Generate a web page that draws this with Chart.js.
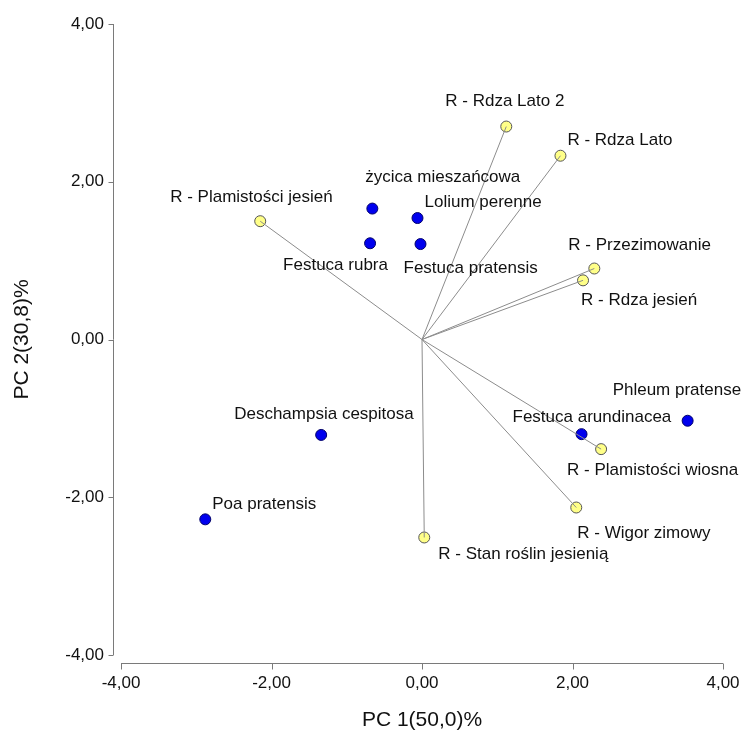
<!DOCTYPE html>
<html>
<head>
<meta charset="utf-8">
<script src="https://cdn.jsdelivr.net/npm/chart.js@4.4.1/dist/chart.umd.min.js"></script>
<style>
  html, body { margin: 0; padding: 0; background: #fff; }
  #wrap { width: 745px; height: 731px; }
</style>
</head>
<body>
<div id="wrap"><canvas id="pcaChart"></canvas></div>
<script>
// Gatunki (niebieskie punkty)
var speciesNames = ["życica mieszańcowa", "Lolium perenne", "Festuca rubra", "Festuca pratensis",
  "Deschampsia cespitosa", "Poa pratensis", "Festuca arundinacea", "Phleum pratense"];
var speciesPC1 = [-0.66, -0.06, -0.69, -0.02, -1.34, -2.88, 2.12, 3.53];
var speciesPC2 = [1.66, 1.54, 1.22, 1.21, -1.21, -2.28, -1.20, -1.03];

// Zmienne (żółte punkty, wektory od środka)
var varNames = ["R - Plamistości jesień", "R - Rdza Lato 2", "R - Rdza Lato", "R - Przezimowanie",
  "R - Rdza jesień", "R - Plamistości wiosna", "R - Wigor zimowy", "R - Stan roślin jesienią"];
var varPC1 = [-2.15, 1.12, 1.84, 2.29, 2.14, 2.38, 2.05, 0.03];
var varPC2 = [1.50, 2.70, 2.33, 0.90, 0.75, -1.39, -2.13, -2.51];

var axisTicks = [-4, -2, 0, 2, 4];

// przesunięcia etykiet względem punktów (px): [dx do lewej krawędzi tekstu, dy do środka]
var speciesLabelOffset = [[-7, -31], [7, -16], [-87, 22], [-17, 24], [-87, -21], [7, -15], [-69, -17], [-75, -30]];
var varLabelOffset = [[-90, -24], [-61, -25], [7, -15], [-26, -23], [-2, 20], [-34, 21], [1, 26], [14, 17]];

var fmt = function (v) { return v.toFixed(2).replace(".", ","); };
var labelFont = "17px 'Liberation Sans', Arial, sans-serif";

var datasets = [];
varPC1.forEach(function (x, i) {
  datasets.push({
    type: "line",
    data: [{ x: 0, y: 0 }, { x: x, y: varPC2[i] }],
    borderColor: "#8c8c8c",
    borderWidth: 1,
    pointRadius: 0,
    fill: false,
  });
});
datasets.push({
  label: "vars",
  data: varPC1.map(function (x, i) { return { x: x, y: varPC2[i] }; }),
  backgroundColor: "#ffff88",
  borderColor: "#555555",
  borderWidth: 1,
  pointRadius: 5.5,
  names: varNames,
  offsets: varLabelOffset,
});
datasets.push({
  label: "species",
  data: speciesPC1.map(function (x, i) { return { x: x, y: speciesPC2[i] }; }),
  backgroundColor: "#0000ee",
  borderColor: "#00006a",
  borderWidth: 1,
  pointRadius: 5.5,
  names: speciesNames,
  offsets: speciesLabelOffset,
});

// osie odsunięte od obszaru wykresu + etykiety punktów
var biplotPlugin = {
  id: "biplot",
  afterDraw: function (chart) {
    var ctx = chart.ctx;
    var xs = chart.scales.x, ys = chart.scales.y;
    var area = chart.chartArea;
    ctx.save();
    ctx.strokeStyle = "#7a7a7a";
    ctx.lineWidth = 1;
    var ax = Math.round(area.left - 8) + 0.5;
    var ay = Math.round(area.bottom + 8) + 0.5;
    ctx.beginPath();
    ctx.moveTo(ax, ys.getPixelForValue(4));
    ctx.lineTo(ax, ys.getPixelForValue(-4));
    axisTicks.forEach(function (t) {
      var py = Math.round(ys.getPixelForValue(t)) + 0.5;
      ctx.moveTo(ax, py);
      ctx.lineTo(ax - 5, py);
    });
    ctx.moveTo(xs.getPixelForValue(-4), ay);
    ctx.lineTo(xs.getPixelForValue(4), ay);
    axisTicks.forEach(function (t) {
      var px = Math.round(xs.getPixelForValue(t)) + 0.5;
      ctx.moveTo(px, ay);
      ctx.lineTo(px, ay + 6);
    });
    ctx.stroke();

    ctx.fillStyle = "#111";
    ctx.font = labelFont;
    ctx.textAlign = "left";
    ctx.textBaseline = "middle";
    chart.data.datasets.forEach(function (ds, di) {
      if (!ds.names) return;
      chart.getDatasetMeta(di).data.forEach(function (pt, i) {
        var off = ds.offsets[i];
        ctx.fillText(ds.names[i], pt.x + off[0], pt.y + off[1]);
      });
    });
    ctx.restore();
  },
};

new Chart(document.getElementById("pcaChart"), {
  type: "scatter",
  data: { datasets: datasets },
  plugins: [biplotPlugin],
  options: {
    responsive: true,
    maintainAspectRatio: false,
    animation: false,
    layout: { padding: { top: 24, right: 22, left: 0, bottom: 0 } },
    plugins: { legend: { display: false }, tooltip: { enabled: false } },
    scales: {
      x: {
        type: "linear",
        min: -4,
        max: 4,
        afterFit: function (s) { s.height = 76; s.paddingLeft = 0; s.paddingRight = 0; },
        afterBuildTicks: function (s) { s.ticks = axisTicks.map(function (v) { return { value: v }; }); },
        grid: { display: false, drawTicks: false },
        border: { display: false },
        ticks: {
          padding: 18,
          color: "#111",
          font: { family: "'Liberation Sans', Arial, sans-serif", size: 17 },
          callback: function (v) { return fmt(v); },
        },
        title: {
          display: true,
          text: "PC 1(50,0)%",
          color: "#111",
          padding: { top: 0, bottom: 0 },
          font: { family: "'Liberation Sans', Arial, sans-serif", size: 21, lineHeight: 1 },
        },
      },
      y: {
        type: "linear",
        min: -4,
        max: 4,
        afterFit: function (s) { s.width = 121; s.paddingTop = 0; s.paddingBottom = 0; },
        afterBuildTicks: function (s) { s.ticks = axisTicks.map(function (v) { return { value: v }; }); },
        grid: { display: false, drawTicks: false },
        border: { display: false },
        ticks: {
          padding: 17,
          color: "#111",
          font: { family: "'Liberation Sans', Arial, sans-serif", size: 17 },
          callback: function (v) { return fmt(v); },
        },
        title: {
          display: true,
          text: "PC 2(30,8)%",
          color: "#111",
          padding: { top: 12, bottom: 0 },
          font: { family: "'Liberation Sans', Arial, sans-serif", size: 21, lineHeight: 1 },
        },
      },
    },
  },
});
</script>
</body>
</html>
